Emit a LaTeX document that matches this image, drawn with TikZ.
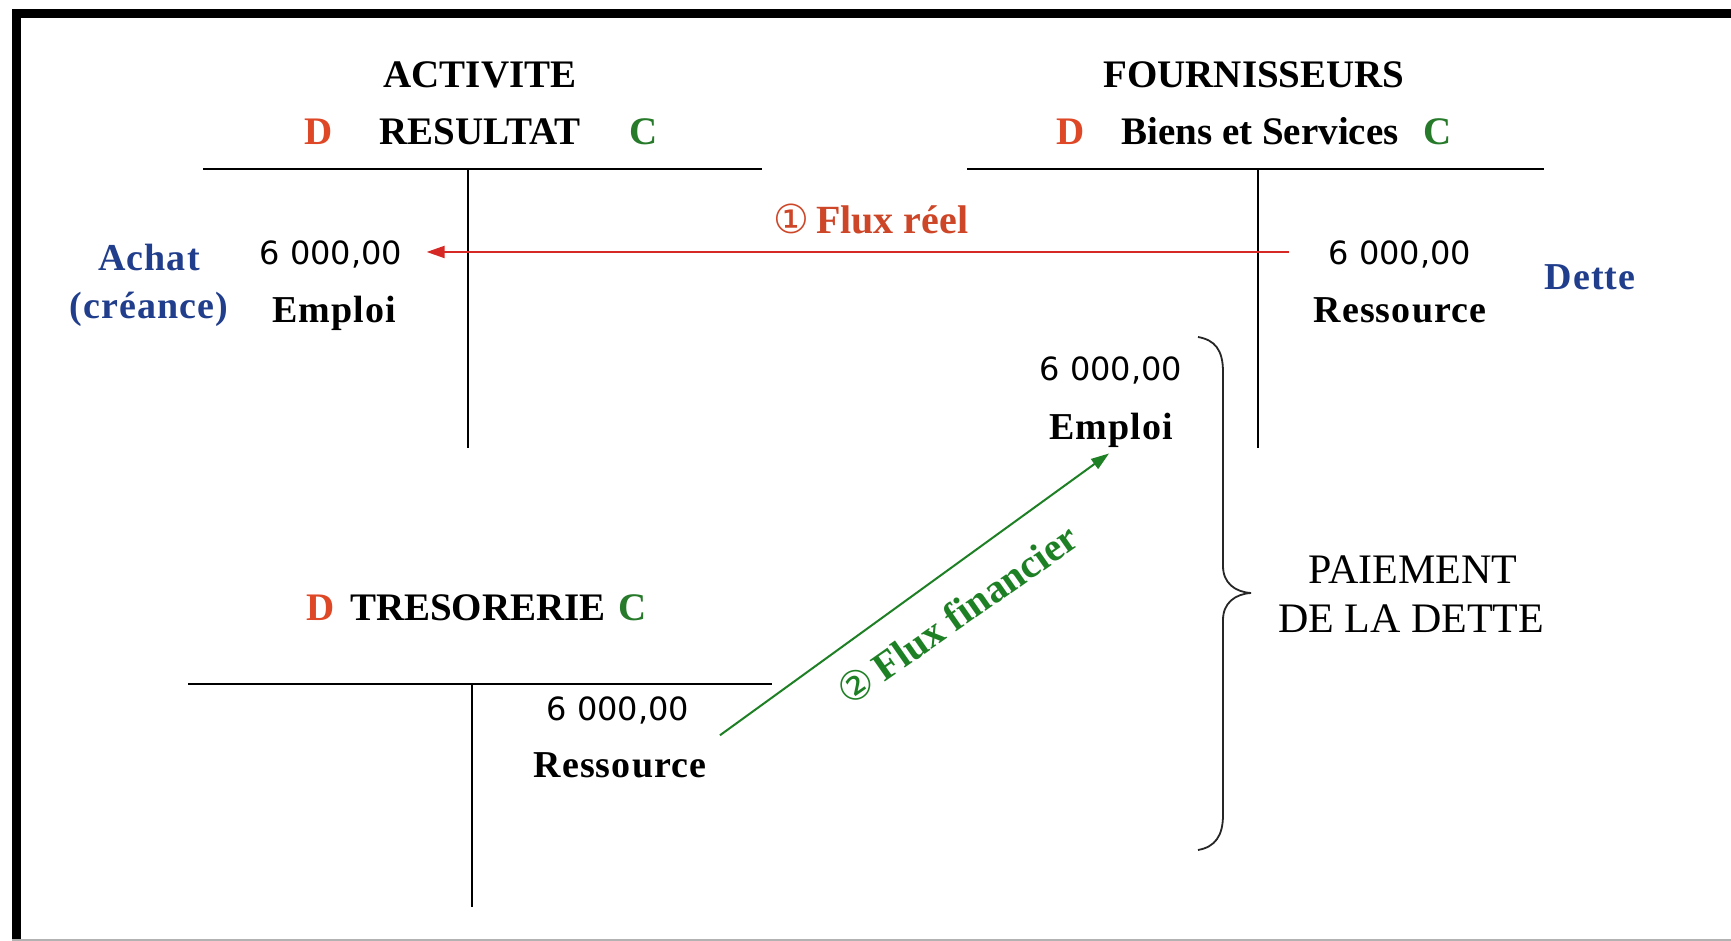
\documentclass[tikz,border=0pt]{standalone}
\usepackage{fontspec}
\setmainfont{Liberation Serif}
\newfontfamily\numfont{DejaVu Sans}
\newfontfamily\symfont{DejaVu Sans}
\newfontfamily\widefont[LetterSpace=3]{Liberation Serif}
\usetikzlibrary{arrows.meta}
\definecolor{debitcol}{RGB}{222,72,38}
\definecolor{creditcol}{RGB}{38,122,42}
\definecolor{notecol}{RGB}{32,62,140}
\definecolor{realflow}{RGB}{214,40,36}
\definecolor{realtext}{RGB}{206,70,40}
\definecolor{cashflow}{RGB}{30,128,36}

\begin{document}
\begin{tikzpicture}[x=0.5pt,y=-0.5pt,
  every node/.style={inner sep=0pt, anchor=base},
  heading/.style={font=\fontsize{19.5}{22}\selectfont\bfseries},
  debitmark/.style={heading, text=debitcol},
  creditmark/.style={heading, text=creditcol},
  label/.style={font=\widefont\fontsize{19}{22}\selectfont\bfseries},
  note/.style={label, text=notecol},
  amount/.style={font=\numfont\fontsize{16}{19}\selectfont},
  caption/.style={font=\fontsize{21}{24}\selectfont},
  tline/.style={line width=1pt, black},
  flowlabel/.style={font=\fontsize{20}{23}\selectfont\bfseries},
  realarrow/.style={line width=1pt, realflow, -{Triangle[length=9pt,width=6pt]}},
  casharrow/.style={line width=1pt, cashflow, -{Triangle[length=9pt,width=6pt]}},
  bracket/.style={line width=0.9pt, black!85}
]
\useasboundingbox (0,0) rectangle (1731,941);
\fill[white] (0,0) rectangle (1731,941);

% frame
\draw[line width=4.5pt, line join=miter] (16.5,941) -- (16.5,14) -- (1731,14);
\draw[black!30, line width=0.8pt] (12,940) -- (1731,940);

% ---- account ACTIVITE / RESULTAT
\node[heading] (actT) at (480,88) {ACTIVITE};
\node[debitmark] (actD) at (319,145) {D};
\node[heading] (actN) at (480,145) {RESULTAT};
\node[creditmark] (actC) at (644,145) {C};
\draw[tline] (203,169) -- (762,169);
\draw[tline] (468,169) -- (468,448);

\node[amount] (a1) at (331,265) {6 000,00};
\node[label] (a2) at (334,323) {Emploi};
\node[note] (n1) at (149,271) {Achat};
\node[note] (n2) at (149,319) {(créance)};

% ---- account FOURNISSEURS
\node[heading] (frnT) at (1254,88) {FOURNISSEURS};
\node[debitmark] (frnD) at (1071,145) {D};
\node[heading] (frnN) at (1260,145) {Biens et Services};
\node[creditmark] (frnC) at (1438,145) {C};
\draw[tline] (967,169) -- (1544,169);
\draw[tline] (1258,169) -- (1258,448);

\node[amount] (f1) at (1400,265) {6 000,00};
\node[label] (f2) at (1400,323) {Ressource};
\node[note] (n3) at (1590,290) {Dette};

\node[amount] (p1) at (1111,380) {6 000,00};
\node[label] (p2) at (1111,439) {Emploi};

% ---- account TRESORERIE
\node[debitmark] (treD) at (321,620) {D};
\node[heading] (treN) at (478,620) {TRESORERIE};
\node[creditmark] (treC) at (633,620) {C};
\draw[tline] (188,684) -- (772,684);
\draw[tline] (472,684) -- (472,907);

\node[amount] (t1) at (618,720) {6 000,00};
\node[label] (t2) at (620,777) {Ressource};

% ---- flows
\draw[realarrow] ([xshift=-19.5pt,yshift=1.5pt]f1.west) -- ([xshift=12pt,yshift=1.5pt]a1.east);
\node[flowlabel, text=realtext] (fr) at (871,234) {{\symfont\mdseries ①}\,Flux réel};

\draw[casharrow] ([xshift=6.5pt,yshift=14.75pt]t2.east) -- ([xshift=-1pt,yshift=-3pt]p2.south);
\node[flowlabel, text=cashflow, rotate=35, anchor=center] (ff) at (957,614) {{\symfont\mdseries ②}\,Flux financier};

% ---- brace and caption
\draw[bracket] (1198,337) .. controls (1215,340) and (1223,350) .. (1223,372)
  -- (1223,566) .. controls (1223,583) and (1235,592) .. (1251,593)
  .. controls (1235,594) and (1223,603) .. (1223,620)
  -- (1223,815) .. controls (1223,836) and (1215,847) .. (1198,850);
\node[caption] (pay1) at (1413,583) {PAIEMENT};
\node[caption] (pay2) at (1411,632) {DE LA DETTE};
\end{tikzpicture}
\end{document}
